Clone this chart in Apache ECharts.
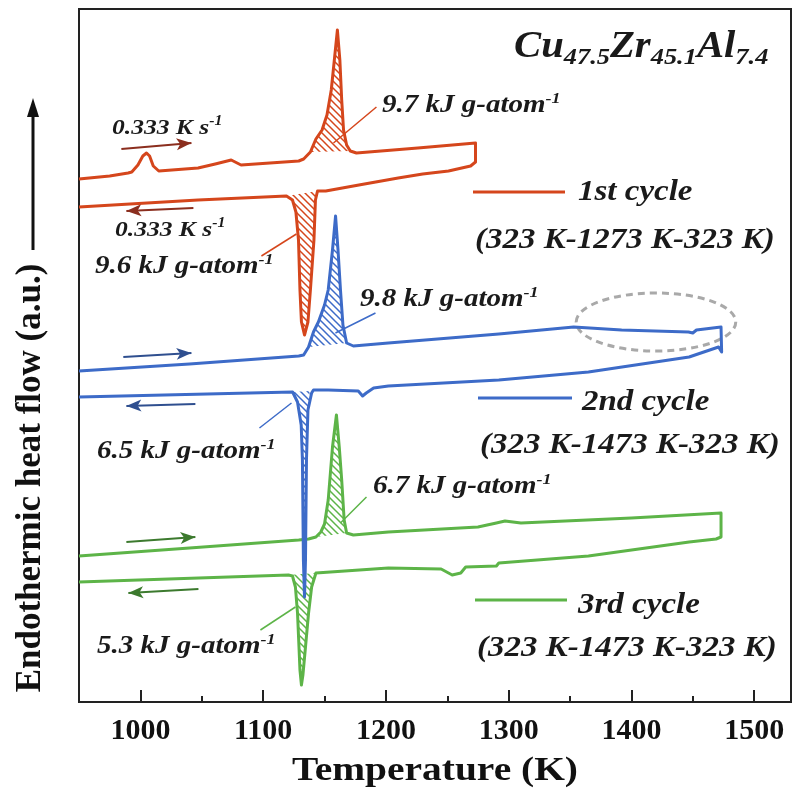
<!DOCTYPE html>
<html>
<head>
<meta charset="utf-8">
<script src="https://cdn.jsdelivr.net/npm/echarts@6.0.0/dist/echarts.min.js"></script>
<style>
html, body { margin: 0; padding: 0; background: #fff; }
#main { width: 792px; height: 789px; }
</style>
</head>
<body>
<div id="main"></div>
<script>
// [temperature (K), heat flow (a.u.)]
var cycle1Heating = [
    [950, 52.3], [975, 52.6], [990, 52.9], [993, 53.0], [998, 53.7], [1002, 54.6], [1005, 54.9],
    [1007.5, 54.6], [1010.5, 53.6], [1015, 53.1], [1047, 53.4], [1061, 53.8], [1074, 54.2],
    [1082, 53.7], [1129, 54.1], [1133, 54.3], [1138.5, 55.0], [1143, 56.3], [1148, 57.2],
    [1152, 58.7], [1155.5, 61.2], [1158, 64.2], [1160.5, 67.2], [1162.5, 64.2], [1164, 60.2],
    [1165.5, 57.2], [1168, 55.7], [1171, 55.1], [1176, 54.9], [1226, 55.4], [1273, 55.9]
];
var cycle1Cooling = [
    [1273, 54.0], [1269, 53.6], [1251, 53.1], [1230, 52.8], [1210, 52.4], [1178, 51.7], [1151, 51.1],
    [1144.3, 51.1], [1142.6, 50.2], [1141.4, 46.2], [1138.5, 41.2], [1136.5, 38.0], [1133.7, 36.7],
    [1131.2, 38.0], [1130, 41.2], [1128.8, 46.2], [1126.7, 49.0], [1123.9, 50.2], [1119, 50.6],
    [1047, 50.2], [950, 49.5]
];
var cycle2Heating = [
    [950, 33.1], [1040, 33.8], [1129, 34.6], [1133, 34.7], [1137, 35.5], [1141, 37.0], [1145, 38.0],
    [1150, 39.7], [1153, 41.2], [1156.5, 45.2], [1159, 48.6], [1161, 45.2], [1163, 41.2],
    [1165, 37.7], [1168, 35.9], [1173.5, 35.6], [1202, 35.9], [1292, 36.8], [1353, 37.5],
    [1392, 37.2], [1446.5, 37.0], [1450, 36.9], [1453, 37.2], [1473, 37.5]
];
var cycle2Cooling = [
    [1473.5, 35.0], [1471, 35.5], [1447, 34.5], [1365, 33.0], [1292, 32.2], [1202, 31.6],
    [1190, 31.4], [1184, 30.9], [1181, 30.6], [1177.5, 31.1], [1153, 31.2], [1141, 31.2],
    [1139.5, 30.9], [1138, 31.1], [1136.5, 29.2], [1135.3, 24.2], [1134.5, 14.2], [1133.7, 10.5],
    [1132.8, 14.2], [1132, 24.2], [1131, 27.7], [1128, 30.0], [1124, 31.0], [950, 30.5]
];
var cycle3Heating = [
    [950, 14.6], [1040, 15.4], [1129, 16.2], [1137, 16.3], [1143, 16.5], [1147, 17.0], [1150, 17.8],
    [1153, 20.2], [1156.5, 25.5], [1159.7, 28.7], [1162, 25.5], [1164, 22.2], [1166, 18.2],
    [1168, 16.9], [1173.5, 16.7], [1202, 17.0], [1275, 17.5], [1290, 17.9], [1297, 18.1],
    [1310, 17.9], [1400, 18.4], [1473, 18.9]
];
var cycle3Cooling = [
    [1473, 16.5], [1469, 16.3], [1447, 16.0], [1365, 14.6], [1292, 13.9], [1290, 13.6],
    [1265, 13.5], [1261, 12.9], [1254, 12.7], [1248, 13.1], [1245, 13.3], [1202, 13.4],
    [1143, 12.9], [1139.5, 11.5], [1137, 8.9], [1134.5, 5.5], [1132.4, 2.7], [1131.2, 1.7],
    [1130, 3.2], [1129.2, 5.5], [1128, 8.9], [1126.3, 11.5], [1123.9, 12.6], [1120.6, 12.7],
    [950, 12.0]
];

// temperature windows of the hatched (integrated) peaks
var hatch1Heating = [1137, 1172];
var hatch1Cooling = [1118, 1145];
var hatch2Heating = [1136, 1169];
var hatch2Cooling = [1123, 1138.5];
var hatch3Heating = [1143, 1170];
var hatch3Cooling = [1120, 1143.5];

// leader lines from the enthalpy labels, and the heating / cooling arrows
var leader1Heating = [[1192.3, 59.5], [1157.3, 55.9]];
var leader1Cooling = [[1098.6, 44.6], [1127.1, 46.8]];
var leader2Heating = [[1191.5, 38.9], [1158.9, 36.9]];
var leader2Cooling = [[1097.0, 27.4], [1123.1, 29.9]];
var leader3Heating = [[1184.2, 20.5], [1163.0, 17.9]];
var leader3Cooling = [[1097.8, 7.2], [1126.3, 9.5]];
var arrow1Heating = [[984.5, 55.3], [1041.6, 55.9]];
var arrow1Cooling = [[1043.2, 49.4], [988.6, 49.1]];
var arrow2Heating = [[986.1, 34.5], [1041.6, 34.9]];
var arrow2Cooling = [[1044.8, 29.8], [988.6, 29.6]];
var arrow3Heating = [[988.6, 16.0], [1044.8, 16.5]];
var arrow3Cooling = [[1047.3, 11.3], [990.2, 10.9]];

var majorTicks = [1000, 1100, 1200, 1300, 1400, 1500];
var minorTicks = [1050, 1150, 1250, 1350, 1450];
var ellipseCenter = [1420, 38.0];   // highlighted high-temperature region, cycle 2
var ellipseRadius = [65, 2.9];      // K, a.u.

var serif = "'Liberation Serif', 'DejaVu Serif', serif";
var red = '#D5461C', blue = '#3D6BC8', green = '#5DB448';

function makeHatch(color) {
    var c = document.createElement('canvas');
    c.width = 7; c.height = 7;
    var g = c.getContext('2d');
    g.strokeStyle = color;
    g.lineWidth = 1.5;
    g.beginPath();
    g.moveTo(0, 0); g.lineTo(7, 7);
    g.moveTo(-1, 6); g.lineTo(1, 8);
    g.moveTo(6, -1); g.lineTo(8, 1);
    g.stroke();
    return { image: c, repeat: 'repeat' };
}

function inRange(branch, range) {
    return branch.filter(function (p) { return p[0] >= range[0] && p[0] <= range[1]; });
}

function hatchSeries(points, color) {
    var fill = makeHatch(color);
    return {
        type: 'custom',
        coordinateSystem: 'cartesian2d',
        data: points,
        silent: true,
        z: 1,
        renderItem: function (params, api) {
            if (params.dataIndex !== 0) return;
            var pts = points.map(function (p) { return api.coord(p); });
            return { type: 'polygon', shape: { points: pts }, style: { fill: fill, stroke: null } };
        }
    };
}

function cycleSeries(name, heating, cooling, color, leaders, arrows, arrowColor) {
    var lines = leaders.map(function (l) {
        return [{ coord: l[0] }, { coord: l[1] }];
    });
    arrows.forEach(function (a) {
        lines.push([
            { coord: a[0], symbol: 'none', lineStyle: { color: arrowColor, width: 2 } },
            { coord: a[1], symbol: 'arrow', symbolSize: [9, 15] }
        ]);
    });
    return {
        name: name,
        type: 'line',
        data: heating.concat(cooling),
        showSymbol: false,
        z: 3,
        lineStyle: { color: color, width: 3, join: 'round' },
        itemStyle: { color: color },
        markLine: {
            silent: true,
            symbol: ['none', 'none'],
            label: { show: false },
            lineStyle: { color: color, width: 1.5, type: 'solid' },
            emphasis: { disabled: true },
            data: lines
        }
    };
}

var myChart = echarts.init(document.getElementById('main'));
myChart.setOption({
    animation: false,
    grid: { left: 79, right: 1, top: 9, bottom: 87, show: true, borderColor: '#222', borderWidth: 2 },
    xAxis: [
        {
            type: 'value', min: 950, max: 1530,
            axisLine: { lineStyle: { color: '#222', width: 2 } },
            axisTick: { inside: true, length: 12, customValues: majorTicks, lineStyle: { color: '#222', width: 2 } },
            axisLabel: {
                customValues: majorTicks, margin: 14, color: '#111',
                fontFamily: serif, fontWeight: 'bold', fontSize: 30,
                formatter: function (v) { return String(v); }
            },
            splitLine: { show: false }
        },
        {
            type: 'value', min: 950, max: 1530, position: 'bottom',
            axisLine: { show: false },
            axisTick: { inside: true, length: 6, customValues: minorTicks, lineStyle: { color: '#222', width: 2 } },
            axisLabel: { show: false },
            splitLine: { show: false }
        }
    ],
    yAxis: {
        type: 'value', min: 0, max: 69.3,
        axisLine: { show: true, lineStyle: { color: '#222', width: 2 } },
        axisTick: { show: false },
        axisLabel: { show: false },
        splitLine: { show: false }
    },
    series: [
        hatchSeries(inRange(cycle3Heating, hatch3Heating), green),
        hatchSeries(inRange(cycle3Cooling, hatch3Cooling), green),
        hatchSeries(inRange(cycle2Heating, hatch2Heating), blue),
        hatchSeries(inRange(cycle2Cooling, hatch2Cooling), blue),
        hatchSeries(inRange(cycle1Heating, hatch1Heating), red),
        hatchSeries(inRange(cycle1Cooling, hatch1Cooling), red),
        cycleSeries('3rd cycle', cycle3Heating, cycle3Cooling, green,
            [leader3Heating, leader3Cooling], [arrow3Heating, arrow3Cooling], '#3C7A2E'),
        cycleSeries('2nd cycle', cycle2Heating, cycle2Cooling, blue,
            [leader2Heating, leader2Cooling], [arrow2Heating, arrow2Cooling], '#2F4F8F'),
        cycleSeries('1st cycle', cycle1Heating, cycle1Cooling, red,
            [leader1Heating, leader1Cooling], [arrow1Heating, arrow1Cooling], '#8B2E1E')
    ]
});

function biText(x, y, main, sup, size) {
    var base = { fontFamily: serif, fontStyle: 'italic', fontWeight: 'bold', fill: '#1a1a1a' };
    return {
        type: 'text', x: x, y: y, scaleX: 1.16, silent: true,
        style: {
            text: '{m|' + main + '}{s|' + sup + '}',
            align: 'left', verticalAlign: 'middle',
            rich: {
                m: Object.assign({ fontSize: size, lineHeight: size * 1.2 }, base),
                s: Object.assign({ fontSize: size * 0.62, lineHeight: size * 0.62, verticalAlign: 'top' }, base)
            }
        }
    };
}

function plainText(x, y, text, size, opts) {
    return Object.assign({
        type: 'text', x: x, y: y, silent: true, scaleX: 1.1,
        style: {
            text: text, align: 'left', verticalAlign: 'middle', fill: '#1a1a1a',
            fontFamily: serif, fontStyle: 'italic', fontWeight: 'bold', fontSize: size
        }
    }, opts || {});
}

function legendLine(x1, x2, y, color) {
    return { type: 'line', silent: true, shape: { x1: x1, y1: y, x2: x2, y2: y }, style: { stroke: color, lineWidth: 3 } };
}

var c = myChart.convertToPixel({ gridIndex: 0 }, ellipseCenter);
var e = myChart.convertToPixel({ gridIndex: 0 }, [ellipseCenter[0] + ellipseRadius[0], ellipseCenter[1] + ellipseRadius[1]]);

var sub = { fontFamily: serif, fontStyle: 'italic', fontWeight: 'bold', fill: '#1a1a1a', fontSize: 24, lineHeight: 24, verticalAlign: 'bottom' };
var big = { fontFamily: serif, fontStyle: 'italic', fontWeight: 'bold', fill: '#1a1a1a', fontSize: 37, lineHeight: 46 };

myChart.setOption({
    graphic: [
        {
            type: 'ellipse', silent: true,
            shape: { cx: c[0], cy: c[1], rx: Math.abs(e[0] - c[0]), ry: Math.abs(e[1] - c[1]) },
            style: { fill: 'none', stroke: '#a9a9a9', lineWidth: 3, lineDash: [7, 5] }
        },
        {
            type: 'text', x: 514, y: 47, scaleX: 1.1, silent: true,
            style: {
                text: '{a|Cu}{b|47.5}{a|Zr}{b|45.1}{a|Al}{b|7.4}',
                align: 'left', verticalAlign: 'middle',
                rich: { a: big, b: sub }
            }
        },
        biText(112, 128, '0.333 K s', '-1', 22),
        biText(115, 230, '0.333 K s', '-1', 22),
        biText(95, 267, '9.6 kJ g-atom', '-1', 25),
        biText(382, 106, '9.7 kJ g-atom', '-1', 25),
        biText(360, 300, '9.8 kJ g-atom', '-1', 25),
        biText(97, 452, '6.5 kJ g-atom', '-1', 25),
        biText(373, 487, '6.7 kJ g-atom', '-1', 25),
        biText(97, 647, '5.3 kJ g-atom', '-1', 25),
        legendLine(473, 565, 192, red),
        plainText(578, 192, '1st cycle', 30),
        plainText(475, 240, '(323 K-1273 K-323 K)', 30),
        legendLine(478, 572, 398, blue),
        plainText(582, 402, '2nd cycle', 30),
        plainText(480, 445, '(323 K-1473 K-323 K)', 30),
        legendLine(475, 567, 600, green),
        plainText(578, 605, '3rd cycle', 30),
        plainText(477, 648, '(323 K-1473 K-323 K)', 30),
        {
            type: 'text', x: 435, y: 771, scaleX: 1.16, silent: true,
            style: {
                text: 'Temperature (K)', align: 'center', verticalAlign: 'middle', fill: '#111',
                fontFamily: serif, fontWeight: 'bold', fontSize: 34
            }
        },
        {
            type: 'text', x: 31, y: 478, rotation: Math.PI / 2, silent: true,
            style: {
                text: 'Endothermic heat flow (a.u.)', align: 'center', verticalAlign: 'middle', fill: '#111',
                fontFamily: serif, fontWeight: 'bold', fontSize: 35
            }
        },
        { type: 'line', silent: true, shape: { x1: 33, y1: 250, x2: 33, y2: 112 }, style: { stroke: '#111', lineWidth: 3 } },
        { type: 'polygon', silent: true, shape: { points: [[33, 98], [27, 117], [39, 117]] }, style: { fill: '#111' } }
    ]
});
</script>
</body>
</html>
